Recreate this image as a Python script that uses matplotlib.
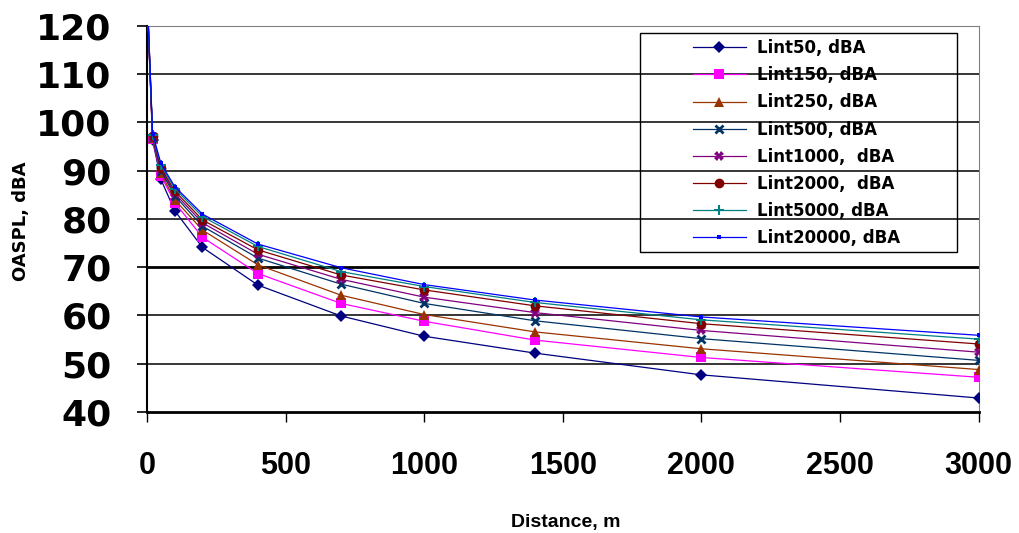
import matplotlib
matplotlib.use('Agg')
import matplotlib.pyplot as plt
from matplotlib.patches import Rectangle

# distance, m
distance = [1, 20, 50, 100, 200, 400, 700, 1000, 1400, 2000, 3000]

lint50 = [124.5, 96.3, 88.2, 81.7, 74.1, 66.3, 59.9, 55.7, 52.2, 47.7, 42.9]
lint150 = [124.8, 96.5, 89.0, 83.4, 76.2, 68.7, 62.5, 58.8, 54.9, 51.3, 47.2]
lint250 = [125.0, 96.7, 89.5, 84.0, 77.7, 70.5, 64.2, 60.2, 56.6, 53.1, 48.8]
lint500 = [125.2, 96.9, 90.0, 84.8, 78.5, 71.9, 66.5, 62.5, 58.9, 55.2, 50.7]
lint1000 = [125.4, 97.0, 90.3, 85.3, 79.2, 72.7, 67.5, 63.8, 60.6, 56.9, 52.4]
lint2000 = [125.6, 97.2, 90.6, 85.8, 79.8, 73.6, 68.4, 65.3, 62.0, 58.3, 54.1]
lint5000 = [125.8, 97.4, 91.1, 86.3, 80.5, 74.3, 69.1, 66.0, 62.7, 59.1, 55.1]
lint20000 = [126.0, 97.7, 91.5, 86.7, 81.0, 74.8, 69.9, 66.4, 63.2, 59.7, 55.9]

labels = ['Lint50, dBA', 'Lint150, dBA', 'Lint250, dBA', 'Lint500, dBA',
          'Lint1000,  dBA', 'Lint2000,  dBA', 'Lint5000, dBA', 'Lint20000, dBA']
series = [lint50, lint150, lint250, lint500, lint1000, lint2000, lint5000, lint20000]

styles = [
    dict(color='#000080', marker='D', ms=6, mew=0),
    dict(color='#FF00FF', marker='s', ms=6.5, mew=0),
    dict(color='#993300', marker='^', ms=7, mew=0),
    dict(color='#003366', marker='x', ms=6, mew=2),
    dict(color='#800080', marker='X', ms=7, mew=0),
    dict(color='#800000', marker='o', ms=7, mew=0),
    dict(color='#008080', marker='+', ms=7, mew=1.5),
    dict(color='#0000FF', marker='s', ms=3.5, mew=0),
]

fig = plt.figure(figsize=(10.19, 5.33), dpi=100)
ax = fig.add_axes([0.1443, 0.227, 0.8160, 0.7243])

for vals, label, st in zip(series, labels, styles):
    ax.plot(distance, vals, color=st['color'], lw=0.9, marker=st['marker'],
            markersize=st['ms'], markeredgewidth=st['mew'],
            markerfacecolor=st['color'], markeredgecolor=st['color'],
            label=label, zorder=3)

ax.set_xlim(0, 3000)
ax.set_ylim(40, 120)
ax.set_xticks(range(0, 3001, 500))
ax.set_yticks(range(40, 121, 10))

# horizontal gridlines
for yv in range(50, 120, 10):
    ax.axhline(yv, color='black', lw=2.0 if yv == 70 else 1.1, zorder=1)

ax.spines['top'].set_color('#808080')
ax.spines['right'].set_color('#808080')
ax.spines['left'].set_linewidth(1.5)
ax.spines['bottom'].set_linewidth(2.0)

ax.tick_params(axis='y', direction='out', length=7, width=1.2, pad=18.5)
ax.tick_params(axis='x', direction='out', length=7, width=1.0, pad=21)
for t in ax.get_yticklabels():
    t.set_fontsize(26)
    t.set_fontweight('bold')
    t.set_family('DejaVu Sans')
for t in ax.get_xticklabels():
    t.set_fontsize(22)
    t.set_fontweight('bold')
    t.set_family('Liberation Sans')

ax.set_ylabel('OASPL, dBA', fontsize=13, fontweight='bold', family='DejaVu Sans')
ax.yaxis.set_label_coords(-0.1407, 0.495)
ax.set_xlabel('Distance, m', fontsize=14, fontweight='bold', family='Liberation Sans')
ax.xaxis.set_label_coords(0.503, -0.263)

leg = ax.legend(loc='upper left', bbox_to_anchor=(0.656, 0.966), frameon=False,
                borderpad=0, borderaxespad=0, handlelength=3.2, handletextpad=0.66,
                labelspacing=0.55, prop={'size': 12, 'weight': 'bold'})
ax.add_patch(Rectangle((0.593, 0.415), 0.381, 0.567, transform=ax.transAxes,
                       fill=False, edgecolor='black', lw=1.0, zorder=5))

plt.savefig('out.png', dpi=100)
